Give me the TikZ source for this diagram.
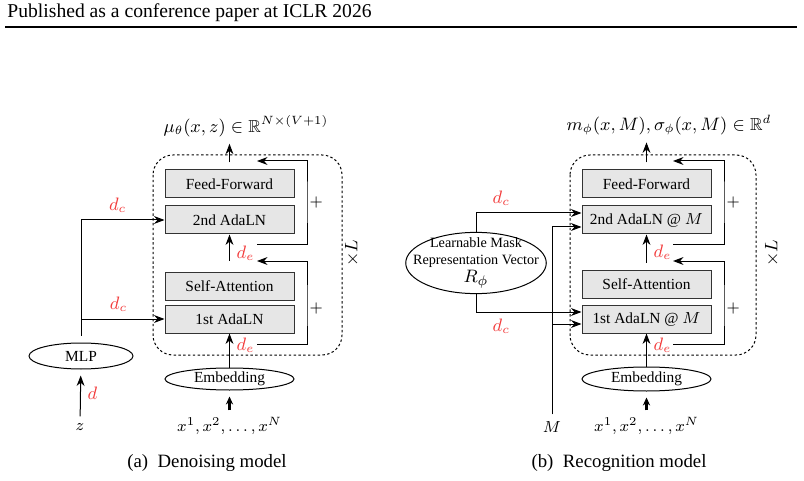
\documentclass[tikz,border=0pt]{standalone}
\usepackage{amssymb}
\usepackage{amsmath}
\usepackage{fontspec}
\setmainfont{Liberation Serif}
\usetikzlibrary{arrows.meta,shapes.geometric}
\definecolor{ccRed}{HTML}{F23C3C}
\definecolor{ccGray}{HTML}{E6E6E6}
\colorlet{dimR}{ccRed}

\begin{document}
\begin{tikzpicture}[x=0.5pt, y=-0.5pt, >=Stealth, line width=0.5pt,
  blk/.style={draw=black!80, fill=ccGray, minimum width=64.5pt, minimum height=14pt, inner sep=0pt, font=\fontsize{7.7}{9}\selectfont},
  elps/.style={draw, ellipse, inner sep=0pt, font=\fontsize{7.7}{9}\selectfont},
  dimlab/.style={text=dimR, font=\fontsize{9}{10}\selectfont},
  mth/.style={font=\fontsize{8.7}{10}\selectfont},
  inp/.style={font=\fontsize{8.2}{10}\selectfont},
  thk/.style={-{Stealth[length=4pt,width=3.6pt]}, line width=1.1pt},
  pls/.style={font=\fontsize{8}{9}\selectfont, right, inner sep=1pt},
  loopbox/.style={draw, dash pattern=on 1.2pt off 1.2pt, rounded corners=10pt},
  captxt/.style={font=\fontsize{9.4}{11}\selectfont}]
\useasboundingbox (0,0) rectangle (804,481);
% page header
\node[anchor=west, inner sep=0pt, font=\fontsize{9.8}{12}\selectfont] (hdr) at (7,13) {Published as a conference paper at ICLR 2026};
\draw[line width=0.6pt] (5,27) -- (797,27);

% (a) denoising model
\draw[loopbox] (153,155) rectangle (342,355);
\node[blk] (ffA) at (229.5,184) {Feed-Forward};
\node[blk] (adaA2) at (229.5,220) {2nd AdaLN};
\node[blk] (saA) at (229.5,286) {Self-Attention};
\node[blk] (adaA1) at (229.5,319) {1st AdaLN};
\node[elps, minimum width=64.5pt, minimum height=11pt] (embA) at (229.5,379) {Embedding};
\node[elps, minimum width=52pt, minimum height=13pt] (mlp) at (81,356) {MLP};
\node[inp] (xA) at (229.5,426) {$x^1,x^2,\ldots,x^N$};
\node[inp] (z) at (80,427) {$z$};
\node[mth] (outA) at (246,126) {$\mu_\theta(x,z)\in\mathbb{R}^{N\times(V+1)}$};
\node[mth, rotate=90] (repA) at (352,253) {$\times L$};
\node[captxt] (capA) at (207,463) {(a)\enspace Denoising model};

\draw[thk, shorten >=3pt] (xA) -- (embA);
\draw[->] (embA) -- node[dimlab, right, pos=0.65] {$d_e$} (adaA1);
\draw[->, shorten <=5.5pt] (saA) -- node[dimlab, right] {$d_e$} (adaA2);
\draw[->, shorten <=3.5pt] (ffA.north) -- (ffA.north|-outA.south);
\draw[->, shorten >=3pt] (z) -- node[dimlab, right] {$d$} (mlp);

\coordinate (mlpTop) at ([yshift=3.5pt]mlp.north);
\draw[->] (mlpTop) |- node[dimlab, pos=0.72, above] {$d_c$} (adaA2.west);
\draw[->] (mlpTop|-adaA1.west) -- node[dimlab, above, pos=0.45] {$d_c$} (adaA1.west);

% residual paths
\coordinate (rA2s) at (257,244);
\coordinate (rA2c) at (307,202);
\coordinate (rA2e) at (257,161);
\draw[->] (rA2s) -| (rA2c) |- (rA2e);
\node[pls] (plA2) at (rA2c) {$+$};
\coordinate (rA1s) at (257,344);
\coordinate (rA1c) at (307,308);
\coordinate (rA1e) at (257,261);
\draw[->] (rA1s) -| (rA1c) |- (rA1e);
\node[pls] (plA1) at (rA1c) {$+$};

% (b) recognition model
\draw[loopbox] (570,155) rectangle (756,355);
\node[blk] (ffB) at (646.5,184) {Feed-Forward};
\node[blk] (adaB2) at (646.5,220) {2nd AdaLN @ $M$};
\node[blk] (saB) at (646.5,284) {Self-Attention};
\node[blk] (adaB1) at (646.5,319) {1st AdaLN @ $M$};
\node[elps, minimum width=64.5pt, minimum height=12pt] (embB) at (646.5,379) {Embedding};
\node[elps, align=center, inner xsep=-6.6pt, inner ysep=-2pt, font=\fontsize{7.1}{8.8}\selectfont] (lrv) at (476,263) {Learnable Mask\\Representation Vector\\{\fontsize{9.4}{10}\selectfont$R_\phi$}};
\node[inp] (xB) at (646.5,426) {$x^1,x^2,\ldots,x^N$};
\node[inp] (mB) at (552,427) {$M$};
\node[mth] (outB) at (669,125) {$m_\phi(x,M),\sigma_\phi(x,M)\in\mathbb{R}^d$};
\node[mth, rotate=90] (repB) at (772,253) {$\times L$};
\node[captxt] (capB) at (619,463) {(b)\enspace Recognition model};

\draw[thk, shorten >=3pt] (xB) -- (embB);
\draw[->] (embB) -- node[dimlab, right, pos=0.65] {$d_e$} (adaB1);
\draw[->, shorten <=3.5pt] (saB) -- node[dimlab, right] {$d_e$} (adaB2);
\draw[->, shorten <=3.5pt] (ffB.north) -- (ffB.north|-outB.south);

\draw[->] (lrv.north) |- node[dimlab, pos=0.62, above] {$d_c$} ([yshift=3.5pt]adaB2.west);
\draw[->] (lrv.south) |- node[dimlab, pos=0.62, below] {$d_c$} ([yshift=3.5pt]adaB1.west);
\coordinate (mJ) at ([yshift=-2.5pt]adaB1.west);
\draw[->] (mB.north) |- ([yshift=-3.5pt]adaB2.west);
\draw[->] (mB.north|-mJ) -- (mJ);

% residual paths
\coordinate (rB2s) at (673,244);
\coordinate (rB2c) at (724,202);
\coordinate (rB2e) at (673,161);
\draw[->] (rB2s) -| (rB2c) |- (rB2e);
\node[pls] (plB2) at (rB2c) {$+$};
\coordinate (rB1s) at (673,344);
\coordinate (rB1c) at (724,308);
\coordinate (rB1e) at (673,261);
\draw[->] (rB1s) -| (rB1c) |- (rB1e);
\node[pls] (plB1) at (rB1c) {$+$};
\end{tikzpicture}
\end{document}
